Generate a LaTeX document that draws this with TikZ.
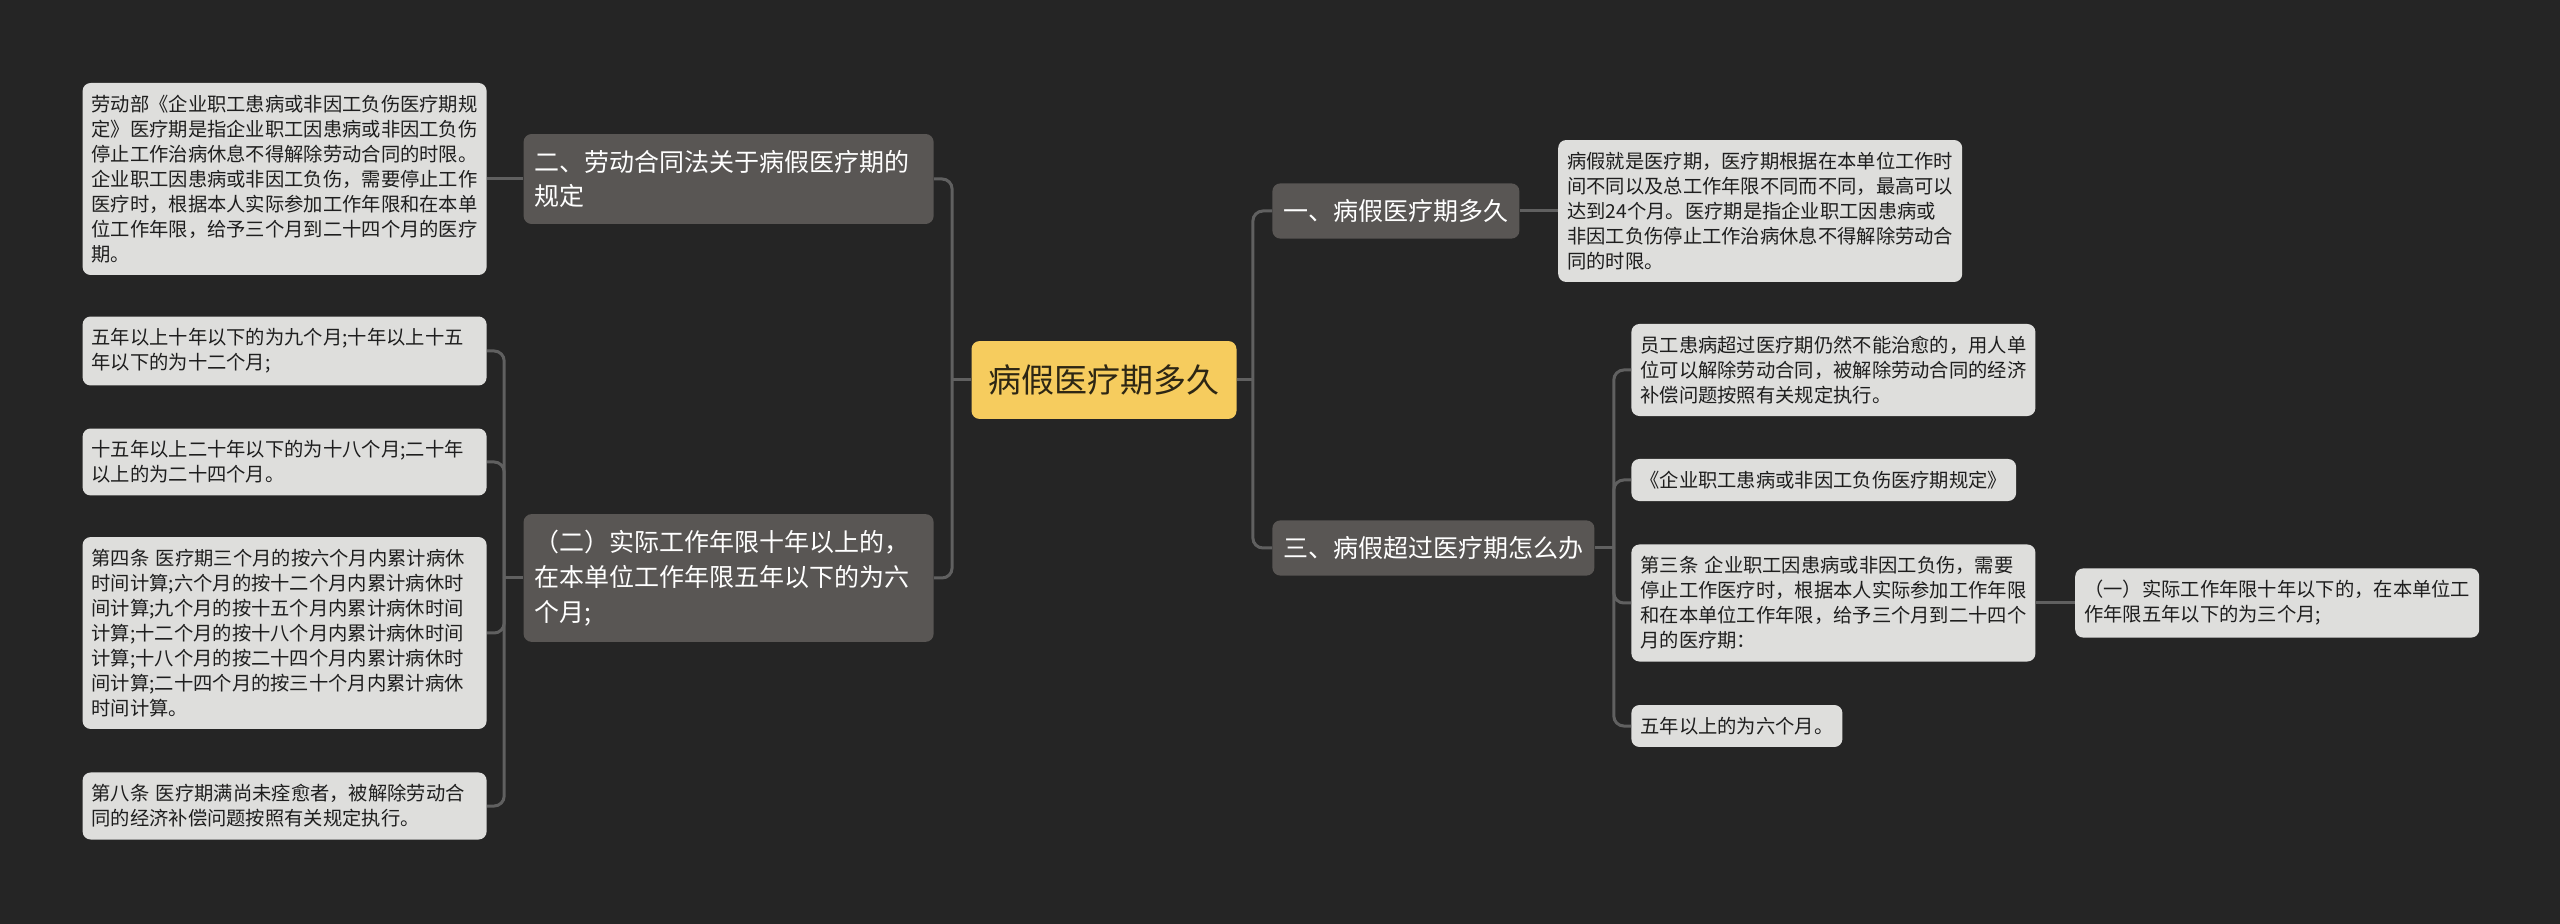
\documentclass[tikz,border=0pt]{standalone}
\usepackage{fontspec}
\setmainfont{Noto Sans CJK SC}
\usetikzlibrary{positioning,calc}

\definecolor{bgcol}{RGB}{37,37,37}
\definecolor{rootfill}{RGB}{246,204,94}
\definecolor{rootink}{RGB}{45,38,20}
\definecolor{midfill}{RGB}{89,86,84}
\definecolor{leaffill}{RGB}{222,222,220}
\definecolor{leafink}{RGB}{30,30,30}
\definecolor{linecol}{RGB}{96,96,96}

\begin{document}
\begin{tikzpicture}[
  x=0.5pt, y=-0.5pt,
  root/.style={rounded corners=4pt, fill=rootfill, text=rootink, inner xsep=8.5pt, inner ysep=11.8pt, font=\fontsize{16.5pt}{20pt}\selectfont},
  mid/.style={rounded corners=4pt, fill=midfill, text=white, align=left, inner xsep=5.5pt, inner ysep=8pt, font=\fontsize{12.5pt}{17.4pt}\selectfont},
  leaf/.style={rounded corners=4pt, fill=leaffill, text=leafink, align=left, inner xsep=4.5pt, inner ysep=6pt, font=\fontsize{9.65pt}{12.5pt}\selectfont},
  wide/.style={text width=193pt},
  midwide/.style={text width=194pt},
  link/.style={draw=linecol, line width=1.5pt, rounded corners=5pt}
]
  \fill[bgcol] (0,0) rectangle (2560,924);
  \useasboundingbox (0,0) rectangle (2560,924);

  % Centre
  \node[root] (root) at (1104,380) {病假医疗期多久};

  % Right branches
  \node[mid, anchor=west] (p1) at (1272,211) {一、病假医疗期多久};
  \node[leaf, wide, right=19pt of p1] (p1a) {病假就是医疗期，医疗期根据在本单位工作时\\间不同以及总工作年限不同而不同，最高可以\\达到24个月。医疗期是指企业职工因患病或\\非因工负伤停止工作治病休息不得解除劳动合\\同的时限。};

  \node[mid, anchor=west] (p3) at (1272,548) {三、病假超过医疗期怎么办};
  \node[leaf, wide, anchor=west] (p3a) at (1631,370) {员工患病超过医疗期仍然不能治愈的，用人单\\位可以解除劳动合同，被解除劳动合同的经济\\补偿问题按照有关规定执行。};
  \node[leaf, anchor=west] (p3b) at (1631,480) {《企业职工患病或非因工负伤医疗期规定》};
  \node[leaf, wide, anchor=west] (p3c) at (1631,603) {第三条 企业职工因患病或非因工负伤，需要\\停止工作医疗时，根据本人实际参加工作年限\\和在本单位工作年限，给予三个月到二十四个\\月的医疗期：};
  \node[leaf, anchor=west] (p3d) at (1631,726) {五年以上的为六个月。};
  \node[leaf, wide, right=19.5pt of p3c] (p3c1) {（一）实际工作年限十年以下的，在本单位工\\作年限五年以下的为三个月;};

  % Left branches
  \node[mid, midwide, anchor=east] (p2) at (934,179) {二、劳动合同法关于病假医疗期的\\规定};
  \node[leaf, wide, anchor=east] (p2a) at (487,179) {劳动部《企业职工患病或非因工负伤医疗期规\\定》医疗期是指企业职工因患病或非因工负伤\\停止工作治病休息不得解除劳动合同的时限。\\企业职工因患病或非因工负伤，需要停止工作\\医疗时，根据本人实际参加工作年限和在本单\\位工作年限，给予三个月到二十四个月的医疗\\期。};

  \node[mid, midwide, anchor=east] (p4) at (934,578) {（二）实际工作年限十年以上的，\\在本单位工作年限五年以下的为六\\个月;};
  \node[leaf, wide, anchor=east] (p4a) at (487,351) {五年以上十年以下的为九个月;十年以上十五\\年以下的为十二个月;};
  \node[leaf, wide, anchor=east] (p4b) at (487,462) {十五年以上二十年以下的为十八个月;二十年\\以上的为二十四个月。};
  \node[leaf, wide, anchor=east] (p4c) at (487,633) {第四条 医疗期三个月的按六个月内累计病休\\时间计算;六个月的按十二个月内累计病休时\\间计算;九个月的按十五个月内累计病休时间\\计算;十二个月的按十八个月内累计病休时间\\计算;十八个月的按二十四个月内累计病休时\\间计算;二十四个月的按三十个月内累计病休\\时间计算。};
  \node[leaf, wide, anchor=east] (p4d) at (487,806) {第八条 医疗期满尚未痊愈者，被解除劳动合\\同的经济补偿问题按照有关规定执行。};

  % Links from the centre
  \coordinate (rj) at ($(root.east)+(8pt,0)$);
  \coordinate (lj) at ($(root.west)+(-9.5pt,0)$);
  \draw[link] (root.east) -- (rj);
  \draw[link] (rj) |- (p1.west);
  \draw[link] (rj) |- (p3.west);
  \draw[link] (root.west) -- (lj);
  \draw[link] (lj) |- (p2.east);
  \draw[link] (lj) |- (p4.east);

  % Links to leaves
  \draw[link] (p1.east) -- (p1a.west);
  \draw[link] (p2.west) -- (p2a.east);
  \draw[link] (p3c.east) -- (p3c1.west);

  \coordinate (j3) at ($(p3.east)+(9.5pt,0)$);
  \draw[link] (p3.east) -- (j3);
  \foreach \n in {p3a,p3b,p3c,p3d}
    \draw[link] (j3) |- (\n.west);

  \coordinate (j4) at ($(p4.west)+(-9.5pt,0)$);
  \draw[link] (p4.west) -- (j4);
  \foreach \n in {p4a,p4b,p4c,p4d}
    \draw[link] (j4) |- (\n.east);
\end{tikzpicture}
\end{document}
